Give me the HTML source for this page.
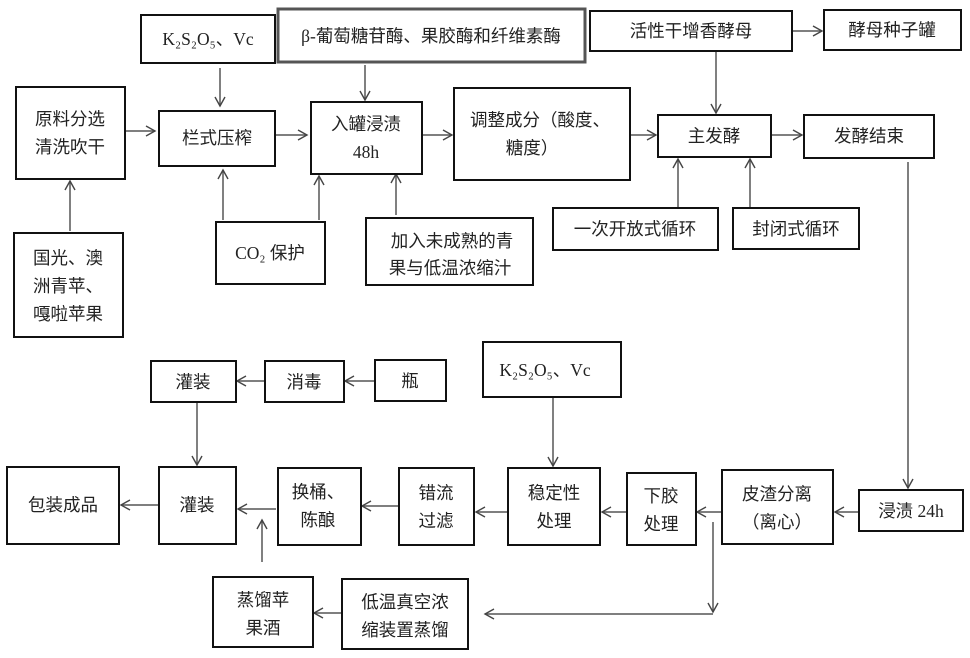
<!DOCTYPE html>
<html><head><meta charset="utf-8"><style>
body{margin:0;background:#fff}
svg{display:block}
text{font-family:"Liberation Serif","Noto Sans CJK SC",sans-serif;font-size:17.5px;fill:#222;text-anchor:middle;dominant-baseline:central}
rect{fill:#fff;stroke:#111;stroke-width:2}
.l{stroke:#555;stroke-width:1.5;fill:none}
</style></head><body>
<svg width="970" height="658" viewBox="0 0 970 658">
<defs><marker id="a" markerWidth="12" markerHeight="12" refX="10" refY="6" orient="auto" markerUnits="userSpaceOnUse"><path d="M1,1 L10,6 L1,11" fill="none" stroke="#444" stroke-width="1.4"/></marker></defs>
<g class="l" marker-end="url(#a)">
<line x1="125" y1="131" x2="155" y2="131"/><line x1="275" y1="135" x2="307" y2="135"/>
<line x1="422" y1="135" x2="452" y2="135"/><line x1="630" y1="135" x2="656" y2="135"/>
<line x1="771" y1="135" x2="802" y2="135"/><line x1="792" y1="31" x2="822" y2="31"/>
<line x1="220" y1="68" x2="220" y2="106"/><line x1="365" y1="65" x2="365" y2="100"/>
<line x1="716" y1="51" x2="716" y2="113"/><line x1="70" y1="231" x2="70" y2="181"/>
<line x1="223" y1="220" x2="223" y2="170"/><line x1="319" y1="220" x2="319" y2="176"/>
<line x1="396" y1="215" x2="396" y2="174"/><line x1="678" y1="207" x2="678" y2="159"/>
<line x1="750" y1="207" x2="750" y2="159"/><line x1="908" y1="162" x2="908" y2="488"/>
<line x1="197" y1="402" x2="197" y2="465"/><line x1="265" y1="381" x2="237" y2="381"/>
<line x1="375" y1="381" x2="345" y2="381"/><line x1="553" y1="397" x2="553" y2="466"/>
<line x1="859" y1="512" x2="835" y2="512"/><line x1="722" y1="512" x2="697" y2="512"/>
<line x1="627" y1="512" x2="602" y2="512"/><line x1="508" y1="512" x2="476" y2="512"/>
<line x1="399" y1="506" x2="362" y2="506"/><line x1="276" y1="509" x2="238" y2="509"/>
<line x1="159" y1="505" x2="121" y2="505"/><line x1="713" y1="522" x2="713" y2="612"/>
<line x1="713" y1="614" x2="485" y2="614"/><line x1="342" y1="613" x2="314" y2="613"/>
<line x1="262" y1="562" x2="262" y2="520"/>
</g>
<rect x="141" y="15" width="134" height="48"/><text x="208" y="39">K₂S₂O₅、Vc</text>
<rect x="278" y="9" width="307" height="53" style="stroke:#555;stroke-width:3"/><text x="431" y="36">β-葡萄糖苷酶、果胶酶和纤维素酶</text>
<rect x="590" y="11" width="202" height="40"/><text x="691" y="31">活性干增香酵母</text>
<rect x="824" y="10" width="137" height="40"/><text x="892" y="30">酵母种子罐</text>
<rect x="16" y="87" width="109" height="92"/><text x="70" y="119">原料分选</text><text x="70" y="147">清洗吹干</text>
<rect x="159" y="111" width="116" height="55"/><text x="217" y="138">栏式压榨</text>
<rect x="311" y="102" width="111" height="72"/><text x="366" y="124">入罐浸渍</text><text x="366" y="152">48h</text>
<rect x="454" y="88" width="176" height="92"/><text x="540" y="120">调整成分（酸度、</text><text x="532" y="148">糖度）</text>
<rect x="658" y="115" width="113" height="42"/><text x="714" y="136">主发酵</text>
<rect x="804" y="115" width="130" height="43"/><text x="869" y="136">发酵结束</text>
<rect x="14" y="233" width="109" height="104"/><text x="68" y="258">国光、澳</text><text x="68" y="286">洲青苹、</text><text x="68" y="314">嘎啦苹果</text>
<rect x="216" y="222" width="109" height="62"/><text x="270" y="253">CO₂ 保护</text>
<rect x="366" y="218" width="167" height="67"/><text x="452" y="241">加入未成熟的青</text><text x="450" y="268">果与低温浓缩汁</text>
<rect x="553" y="208" width="165" height="42"/><text x="635" y="229">一次开放式循环</text>
<rect x="733" y="208" width="126" height="41"/><text x="796" y="229">封闭式循环</text>
<rect x="151" y="361" width="85" height="41"/><text x="193" y="382">灌装</text>
<rect x="265" y="361" width="79" height="41"/><text x="304" y="382">消毒</text>
<rect x="375" y="360" width="71" height="41"/><text x="410" y="381">瓶</text>
<rect x="483" y="342" width="138" height="55"/><text x="545" y="370">K₂S₂O₅、Vc</text>
<rect x="7" y="467" width="112" height="77"/><text x="63" y="505">包装成品</text>
<rect x="159" y="467" width="77" height="77"/><text x="197" y="505">灌装</text>
<rect x="278" y="468" width="83" height="77"/><text x="318" y="492">换桶、</text><text x="318" y="520">陈酿</text>
<rect x="399" y="468" width="75" height="77"/><text x="436" y="493">错流</text><text x="436" y="521">过滤</text>
<rect x="508" y="468" width="92" height="77"/><text x="554" y="493">稳定性</text><text x="554" y="521">处理</text>
<rect x="627" y="473" width="69" height="72"/><text x="661" y="496">下胶</text><text x="661" y="524">处理</text>
<rect x="722" y="470" width="111" height="74"/><text x="777" y="494">皮渣分离</text><text x="777" y="522">（离心）</text>
<rect x="859" y="490" width="104" height="41"/><text x="911" y="511">浸渍 24h</text>
<rect x="213" y="577" width="100" height="70"/><text x="263" y="600">蒸馏苹</text><text x="263" y="628">果酒</text>
<rect x="342" y="579" width="126" height="70"/><text x="405" y="602">低温真空浓</text><text x="405" y="630">缩装置蒸馏</text>
</svg>
</body></html>
